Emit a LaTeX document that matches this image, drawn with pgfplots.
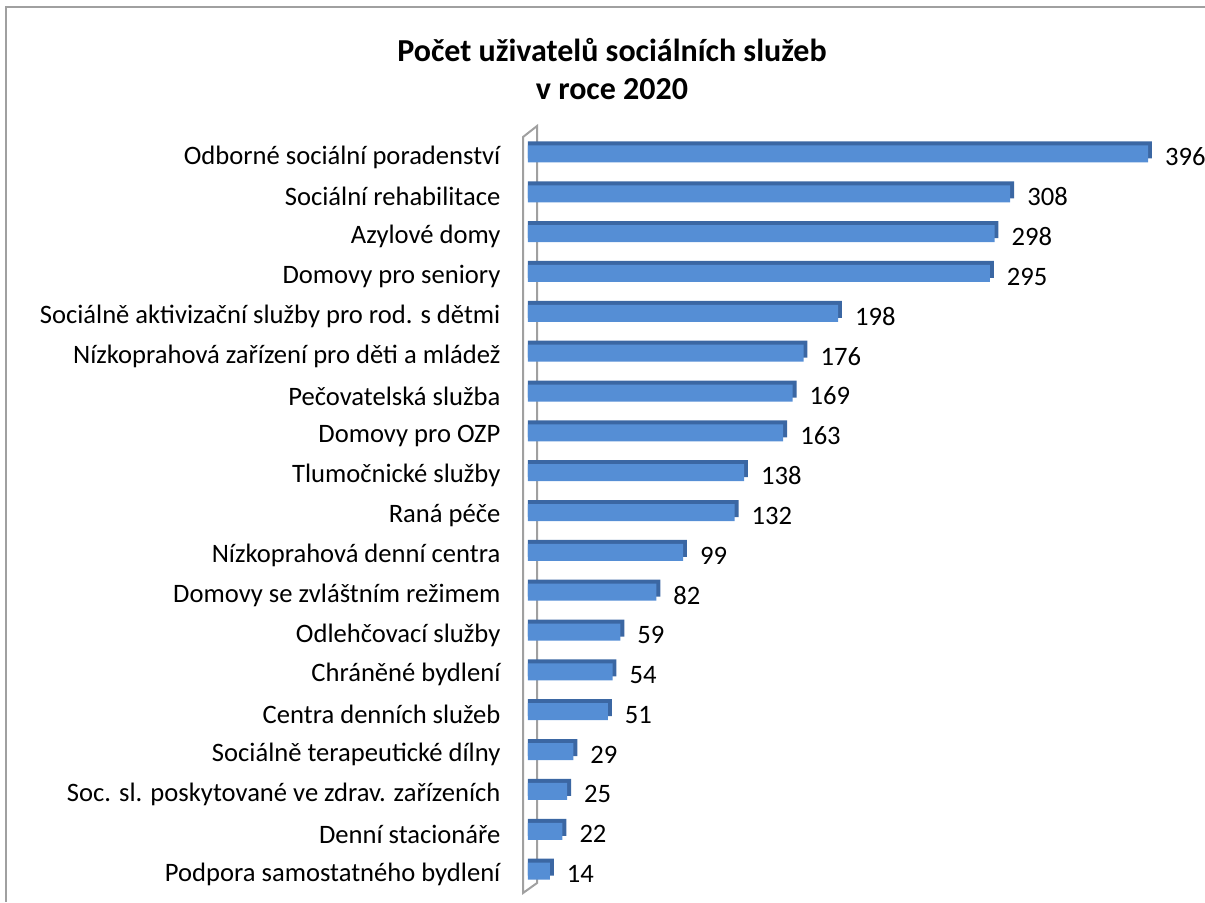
\documentclass[border=0pt]{standalone}
\usepackage{fontspec}
\setmainfont{Carlito}
\usepackage{pgfplots}
\pgfplotsset{compat=1.18}
\usepackage{pgfplotstable}
\definecolor{BarFront}{HTML}{558ED5}
\definecolor{BarDepth}{HTML}{3B67A3}
\definecolor{WallGray}{HTML}{A0A0A0}

\pgfplotstableread[col sep=comma]{
i,v
0,396
1,308
2,298
3,295
4,198
5,176
6,169
7,163
8,138
9,132
10,99
11,82
12,59
13,54
14,51
15,29
16,25
17,22
18,14
}\datatable

\begin{document}
\begin{tikzpicture}
  % page = 1205 x 902 px at 0.5pt per px
  \useasboundingbox (0,0) rectangle (602.5pt,-451pt);
  \draw[WallGray, line width=1.2pt] (3pt,-451pt) -- (3pt,-3.5pt) -- (602.5pt,-3.5pt);
  \node[font=\fontsize{16}{19}\selectfont\bfseries, align=center] at (306pt,-34.5pt)
    {Počet uživatelů sociálních služeb\\v roce 2020};
  % side wall
  \draw[WallGray, line width=1pt]
    (261.5pt,-446.5pt) -- (261.5pt,-68.5pt) -- (268.5pt,-63pt) -- (268.5pt,-441.5pt) -- cycle;
  \begin{axis}[
    at={(264pt,-445.5pt)}, anchor=south west,
    scale only axis, width=310pt, height=378.5pt,
    xmin=0, xmax=396, ymin=-0.5, ymax=18.5,
    y dir=reverse,
    xbar, bar width=8.5pt,
    axis line style={draw=none},
    xtick=\empty, ytick=data,
    ytick style={draw=none},
    yticklabels={Odborné sociální poradenství, Sociální rehabilitace, Azylové domy,
      Domovy pro seniory, Sociálně aktivizační služby pro rod. s dětmi,
      Nízkoprahová zařízení pro děti a mládež, Pečovatelská služba, Domovy pro OZP,
      Tlumočnické služby, Raná péče, Nízkoprahová denní centra,
      Domovy se zvláštním režimem, Odlehčovací služby, Chráněné bydlení,
      Centra denních služeb, Sociálně terapeutické dílny,
      Soc. sl. poskytované ve zdrav. zařízeních, Denní stacionáře,
      Podpora samostatného bydlení},
    yticklabel style={font=\fontsize{13.3}{15}\selectfont, xshift=-6pt, yshift=-1.5pt},
    /pgf/number format/assume math mode=true,
    clip=false,
  ]
  % depth (top and side faces)
  \addplot[fill=BarDepth, draw=none, bar shift=2pt]
    table[x expr=\thisrow{v}+2.5, y=i] {\datatable};
  % front faces with values
  \addplot[fill=BarFront, draw=none, bar shift=0pt,
    nodes near coords,
    nodes near coords style={font=\fontsize{13.3}{15}\selectfont, anchor=west, xshift=5pt, yshift=-1.5pt, text=black}]
    table[x=v, y=i] {\datatable};
  \end{axis}
\end{tikzpicture}
\end{document}
